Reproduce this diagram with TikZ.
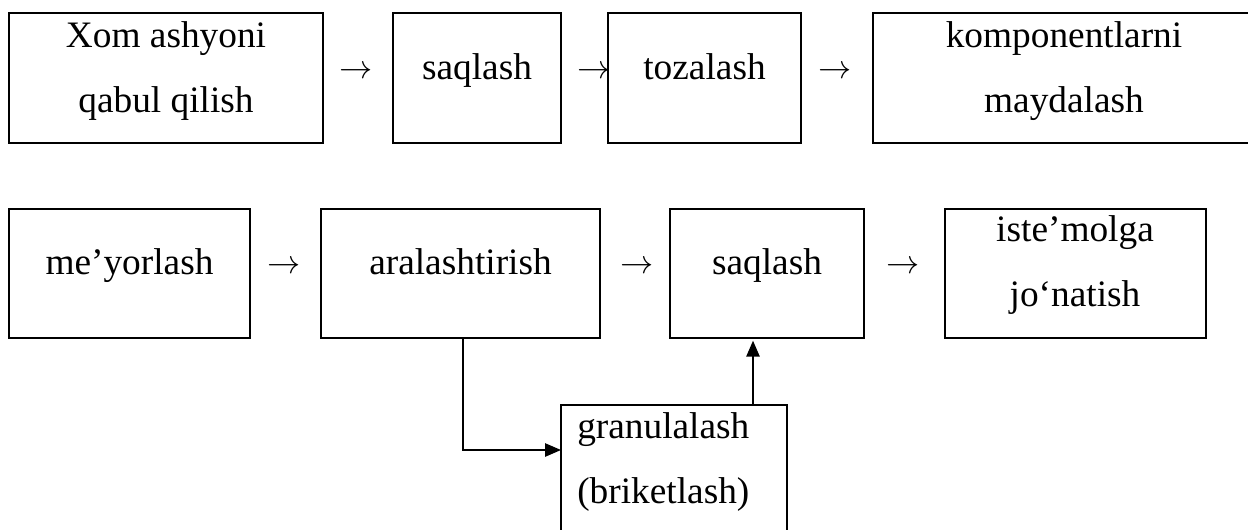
\documentclass[tikz,border=0pt]{standalone}
\usepackage{fontspec}
\setmainfont{Liberation Serif}
\usetikzlibrary{arrows.meta}

\begin{document}
\begin{tikzpicture}[x=0.75pt, y=-0.75pt,
  procbox/.style={draw, line width=1.8pt, inner sep=0pt, outer sep=0pt},
  lbl/.style={inner sep=0pt, anchor=base, font=\fontsize{28pt}{34pt}\selectfont},
  flowarrow/.style={inner sep=0pt, font=\fontsize{26pt}{32pt}\selectfont},
  conn/.style={line width=1.3pt, -{Triangle[length=12pt, width=10pt]}}]
  \useasboundingbox (0,0) rectangle (1248,529);
  \clip (0,0) rectangle (1248,529);
  % boxes: name/left/right/top/bottom
  \foreach \nm/\xa/\xb/\ya/\yb in {xom/9/323/13/143, saq/393/561/13/143,
      toz/608/801/13/143, kom/873/1262/13/143, mey/9/250/209/338,
      ara/321/600/209/338, saqb/670/864/209/338, ist/945/1206/209/338,
      gra/561/787/405/545} {
    \node[procbox, minimum width={(\xb-\xa)*0.75pt},
      minimum height={(\yb-\ya)*0.75pt}] (\nm) at ({(\xa+\xb)/2},{(\ya+\yb)/2}) {};
  }
  % texts
  \node[lbl] (xom1) at (166,47) {Xom ashyoni};
  \node[lbl] (xom2) at (166,112) {qabul qilish};
  \node[lbl] (saq1) at (477,79) {saqlash};
  \node[lbl] (toz1) at (704.5,79) {tozalash};
  \node[lbl] (kom1) at (1064,47) {komponentlarni};
  \node[lbl] (kom2) at (1064,112) {maydalash};
  \node[lbl] (mey1) at (129.5,274) {me’yorlash};
  \node[lbl] (ara1) at (460.5,274) {aralashtirish};
  \node[lbl] (saqb1) at (767,274) {saqlash};
  \node[lbl] (ist1) at (1075,241) {iste’molga};
  \node[lbl] (ist2) at (1075,306) {jo‘natish};
  \node[lbl, anchor=base west] (gra1) at (577,438) {granulalash};
  \node[lbl, anchor=base west] (gra2) at (577,503) {(briketlash)};
  % arrows between boxes
  \foreach \x/\y/\nm in {356/72/a1, 594/72/a2, 835/72/a3,
      284/267/a4, 637/267/a5, 903/267/a6} {
    \node[flowarrow] (\nm) at (\x,\y) {$\rightarrow$};
  }
  % side branch
  \draw[conn] ([xshift=1.9pt]ara.south) |- ([yshift=18.75pt]gra.west);
  \draw[conn] ([xshift=-10.5pt]saqb.south |- gra.north) -- ([xshift=-10.5pt, yshift=-2pt]saqb.south);
\end{tikzpicture}
\end{document}
